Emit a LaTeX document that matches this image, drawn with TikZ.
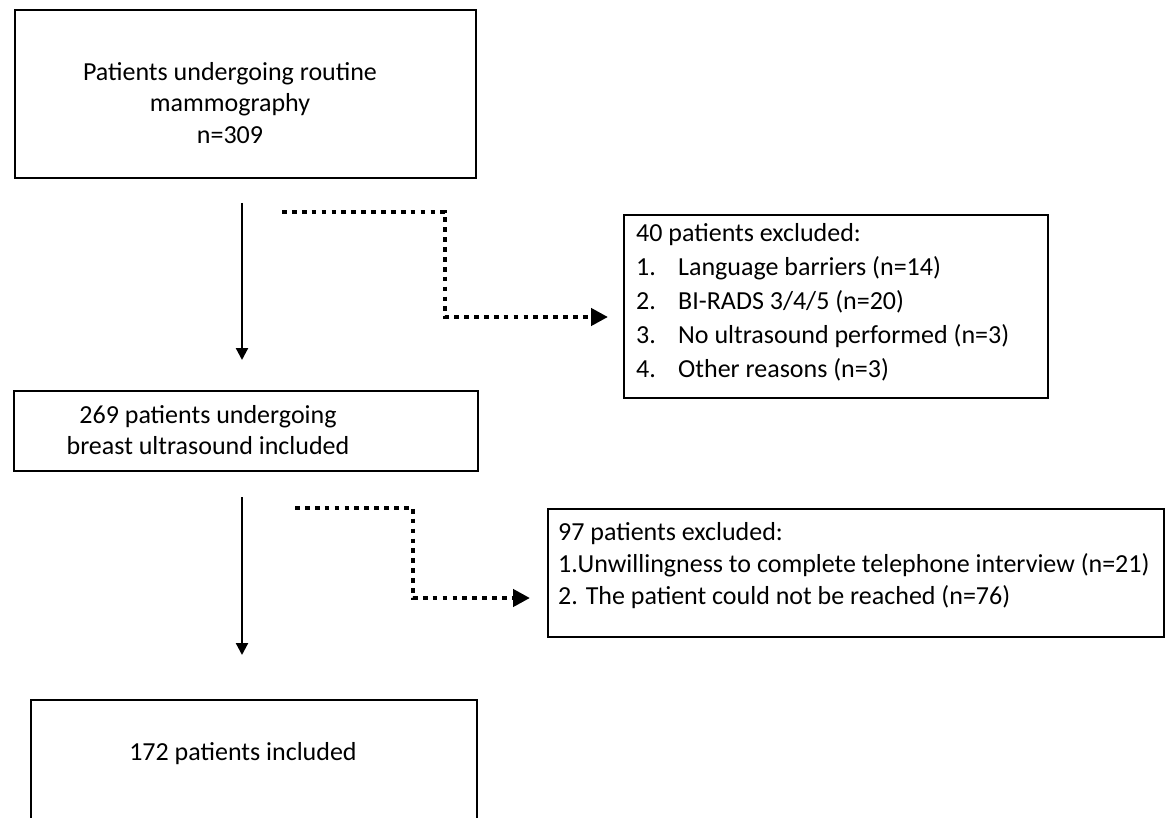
\documentclass[tikz,border=0pt]{standalone}
\usepackage{fontspec}
\setmainfont{Carlito}
\usetikzlibrary{arrows.meta}
\begin{document}
\begin{tikzpicture}[x=1pt,y=-1pt,
  box/.style={draw=black,line width=2pt,rectangle,inner sep=0pt,anchor=north west},
  txt/.style={font=\fontsize{26}{31.7}\selectfont,inner sep=0pt},
  listtxt/.style={font=\fontsize{26}{34}\selectfont,inner sep=0pt,align=left},
  solidarrow/.style={line width=2.2pt,-{Triangle[length=12pt,width=12pt]}},
  dotarrow/.style={line width=4.7pt,dash pattern=on 4.7pt off 5.2pt,-{Triangle[length=17pt,width=17pt]}}
]
\useasboundingbox (0,0) rectangle (1166,818);
\clip (0,0) rectangle (1166,818);
% boxes
\node[box,minimum width=461pt,minimum height=168pt] (b1) at (14,9) {};
\node[box,minimum width=424pt,minimum height=183pt] (b2) at (623,214) {};
\node[box,minimum width=464pt,minimum height=80pt] (b3) at (13,390) {};
\node[box,minimum width=616pt,minimum height=128pt] (b4) at (547,508) {};
\node[box,minimum width=446pt,minimum height=200pt] (b5) at (30,699) {};
% texts (multi-line nodes anchored at the baseline of their last line)
\node[txt,align=center] (t1) at (230,103) {Patients undergoing routine\\mammography\\n=309};
\node[listtxt,anchor=base west] (t2) at (636,377) {40 patients excluded:\\
\makebox[42pt][l]{1.}Language barriers (n=14)\\
\makebox[42pt][l]{2.}BI-RADS 3/4/5 (n=20)\\
\makebox[42pt][l]{3.}No ultrasound performed (n=3)\\
\makebox[42pt][l]{4.}Other reasons (n=3)};
\node[txt,align=center] (t3) at (208,430) {269 patients undergoing\\breast ultrasound included};
\node[txt,align=left,anchor=base west] (t4) at (558,604) {97 patients excluded:\\1.Unwillingness to complete telephone interview (n=21)\\2. The patient could not be reached (n=76)};
\node[txt,anchor=base] (t5) at (243,760) {172 patients included};
% connector ends
\coordinate (a1s) at (242,203);
\coordinate (a1e) at (242,360);
\coordinate (a2s) at (242,497);
\coordinate (a2e) at (242,655);
\coordinate (d1s) at (282,212);
\coordinate (d1c) at (445,212);
\coordinate (d1d) at (445,317);
\coordinate (d1e) at (608,317);
\coordinate (d2s) at (295,508);
\coordinate (d2c) at (413,508);
\coordinate (d2d) at (413,598);
\coordinate (d2e) at (530,598);
% connectors
\draw[solidarrow] (a1s) -- (a1e);
\draw[solidarrow] (a2s) -- (a2e);
\draw[dotarrow] (d1s) -- (d1c) -- (d1d) -- (d1e);
\draw[dotarrow] (d2s) -- (d2c) -- (d2d) -- (d2e);
\end{tikzpicture}
\end{document}
